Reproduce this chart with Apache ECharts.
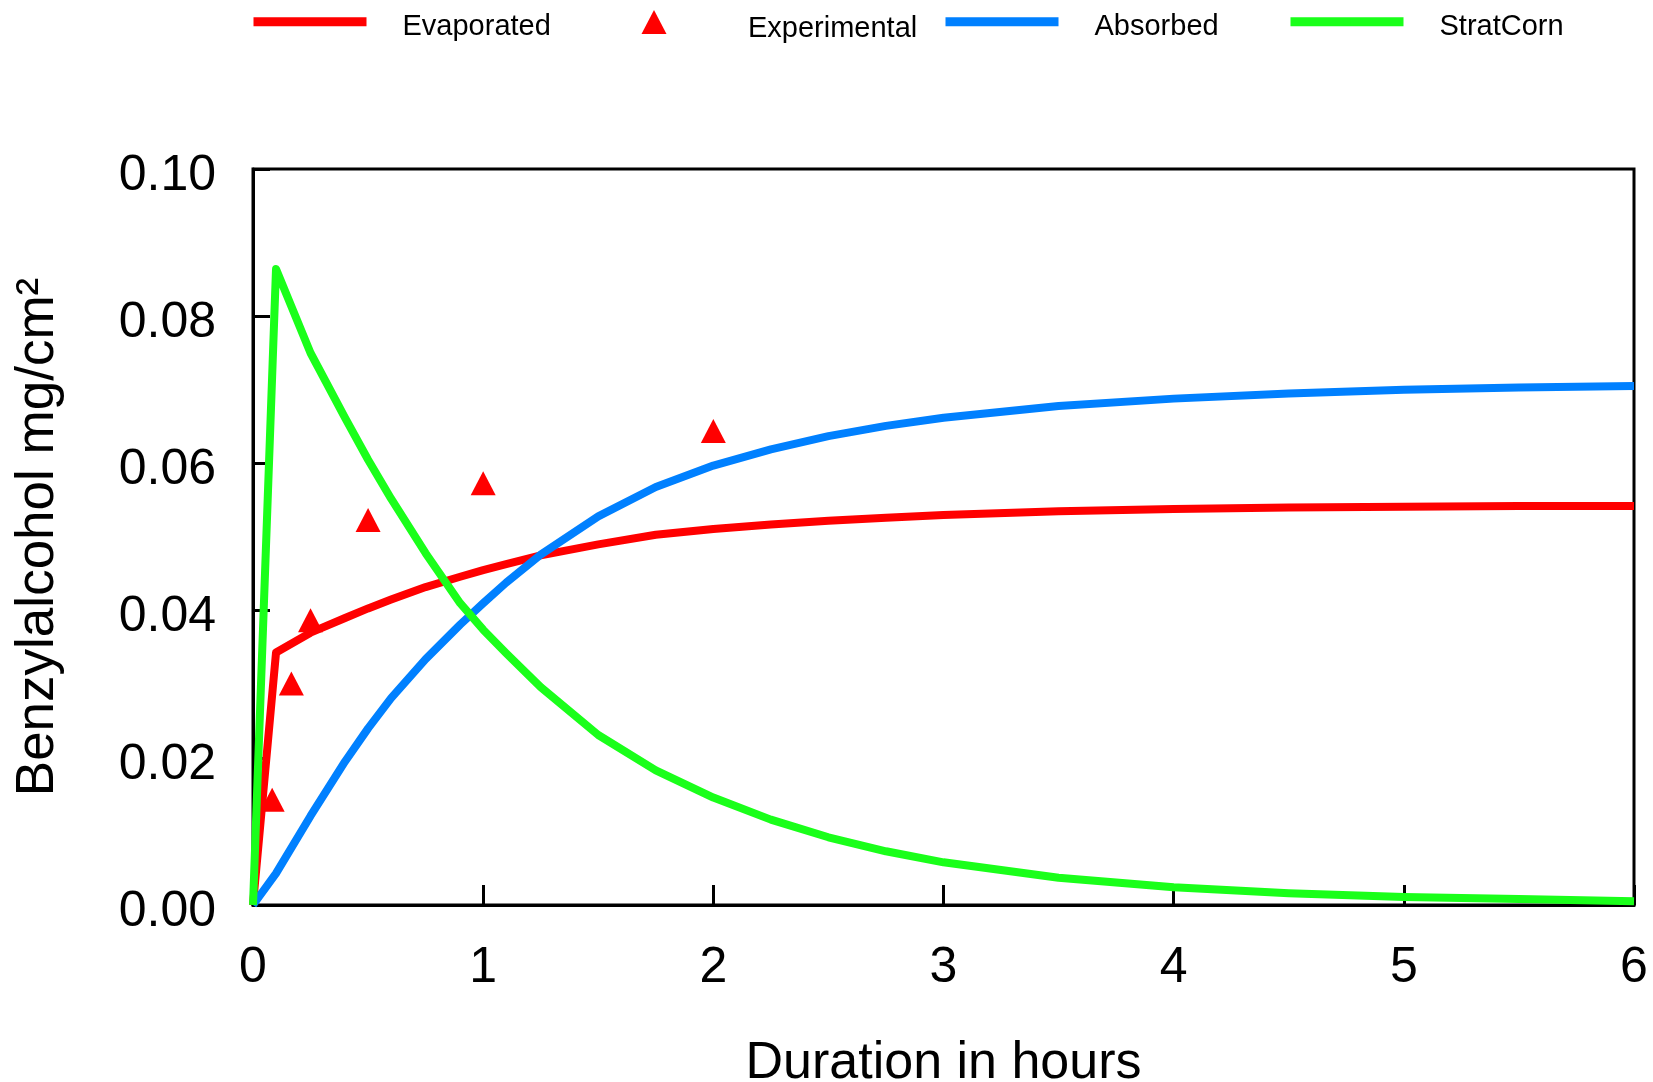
<!DOCTYPE html>
<html>
<head>
<meta charset="utf-8">
<title>Benzylalcohol</title>
<script src="https://cdn.jsdelivr.net/npm/echarts@6/dist/echarts.min.js"></script>
<style>
  html, body { margin: 0; padding: 0; background: #fff; }
  #chart { width: 1653px; height: 1082px; }
</style>
</head>
<body>
<div id="chart"></div>
<script>
// time in hours, shared by the three model curves
const hours = [0, 0.1, 0.25, 0.4, 0.5, 0.6, 0.75, 0.9, 1.0, 1.1, 1.25, 1.5, 1.75, 2.0, 2.25, 2.5, 2.75, 3.0, 3.5, 4.0, 4.5, 5.0, 5.5, 6.0]

const evaporated = [0, 0.0343, 0.0370, 0.0390, 0.0403, 0.0415, 0.0432, 0.0446, 0.0455, 0.0463, 0.0475, 0.0490, 0.0503, 0.0511, 0.0517, 0.0522, 0.0526, 0.0530, 0.0535, 0.0538, 0.0540, 0.0541, 0.0542, 0.0542]
const absorbed = [0, 0.0043, 0.0121, 0.0195, 0.0240, 0.0281, 0.0334, 0.0381, 0.0410, 0.0438, 0.0476, 0.0528, 0.0568, 0.0597, 0.0619, 0.0637, 0.0651, 0.0662, 0.0678, 0.0688, 0.0695, 0.0700, 0.0703, 0.0705]
const stratCorn = [0, 0.0864, 0.0750, 0.0662, 0.0605, 0.0552, 0.0478, 0.0410, 0.0374, 0.0342, 0.0296, 0.0231, 0.0183, 0.0146, 0.0116, 0.0092, 0.0073, 0.0058, 0.0037, 0.0024, 0.0016, 0.0011, 0.0008, 0.0005]

// measured points
const expHours = [0.0833, 0.1667, 0.25, 0.5, 1.0, 2.0]
const expValues = [0.0143, 0.0301, 0.0387, 0.0523, 0.0573, 0.0644]

const xTicks = [0, 1, 2, 3, 4, 5, 6]

const font = 'Liberation Sans, Arial, sans-serif'
const pair = (xs, ys) => xs.map((x, i) => [x, ys[i]])

const chart = echarts.init(document.getElementById('chart'))

const legendText = (padTop, padLeft) => ({
  fontFamily: font,
  fontSize: 29,
  color: '#000',
  rich: {
    t: { fontFamily: font, fontSize: 29, color: '#000', padding: [padTop, 0, 0, padLeft] }
  }
})

const lineLegend = (name, left) => ({
  data: [name],
  left: left,
  top: 12,
  padding: 0,
  itemWidth: 113,
  itemHeight: 9,
  selectedMode: false,
  lineStyle: { width: 9 },
  formatter: '{t|{name}}',
  textStyle: legendText(9.5, 31)
})

chart.setOption({
  animation: false,
  backgroundColor: '#fff',
  legend: [
    lineLegend('Evaporated', 249),
    {
      data: [{ name: 'Experimental', icon: 'triangle' }],
      left: 641.5,
      top: 10,
      padding: 0,
      itemWidth: 25,
      itemHeight: 24,
      selectedMode: false,
      formatter: '{t|{name}}',
      textStyle: legendText(13, 76.5)
    },
    lineLegend('Absorbed', 941),
    lineLegend('StratCorn', 1286)
  ],
  grid: {
    left: 253,
    right: 19,
    top: 169,
    bottom: 177,
    outerBoundsMode: 'none',
    show: true,
    borderColor: '#000',
    borderWidth: 3
  },
  xAxis: {
    type: 'value',
    min: xTicks[0],
    max: xTicks[xTicks.length - 1],
    interval: 1,
    name: 'Duration in hours',
    nameLocation: 'middle',
    nameGap: 133,
    nameTextStyle: { fontFamily: font, fontSize: 52, color: '#000' },
    axisLine: { lineStyle: { color: '#000', width: 3 } },
    axisTick: { inside: true, length: 20, lineStyle: { color: '#000', width: 3 } },
    axisLabel: { fontFamily: font, fontSize: 50, color: '#000', margin: 38 },
    splitLine: { show: false }
  },
  yAxis: {
    type: 'value',
    min: 0,
    max: 0.1,
    interval: 0.02,
    name: 'Benzylalcohol mg/cm²',
    nameLocation: 'middle',
    nameGap: 188,
    nameTextStyle: { fontFamily: font, fontSize: 53, color: '#000' },
    axisLine: { lineStyle: { color: '#000', width: 3 } },
    axisTick: { inside: true, length: 17, lineStyle: { color: '#000', width: 3 } },
    axisLabel: {
      fontFamily: font,
      fontSize: 50,
      color: '#000',
      margin: 37,
      verticalAlign: 'top',
      lineHeight: 14,
      formatter: v => v.toFixed(2)
    },
    splitLine: { show: false }
  },
  series: [
    {
      name: 'Evaporated',
      type: 'line',
      symbol: 'none',
      color: '#ff0000',
      lineStyle: { width: 8, join: 'round' },
      data: pair(hours, evaporated)
    },
    {
      name: 'Experimental',
      type: 'scatter',
      symbol: 'triangle',
      symbolSize: [25, 24],
      color: '#ff0000',
      itemStyle: { opacity: 1 },
      data: pair(expHours, expValues)
    },
    {
      name: 'Absorbed',
      type: 'line',
      symbol: 'none',
      color: '#0080ff',
      lineStyle: { width: 8, join: 'round' },
      data: pair(hours, absorbed)
    },
    {
      name: 'StratCorn',
      type: 'line',
      symbol: 'none',
      color: '#1aff1a',
      lineStyle: { width: 8, join: 'round' },
      data: pair(hours, stratCorn)
    }
  ]
})

window.addEventListener('resize', () => chart.resize())
</script>
</body>
</html>
